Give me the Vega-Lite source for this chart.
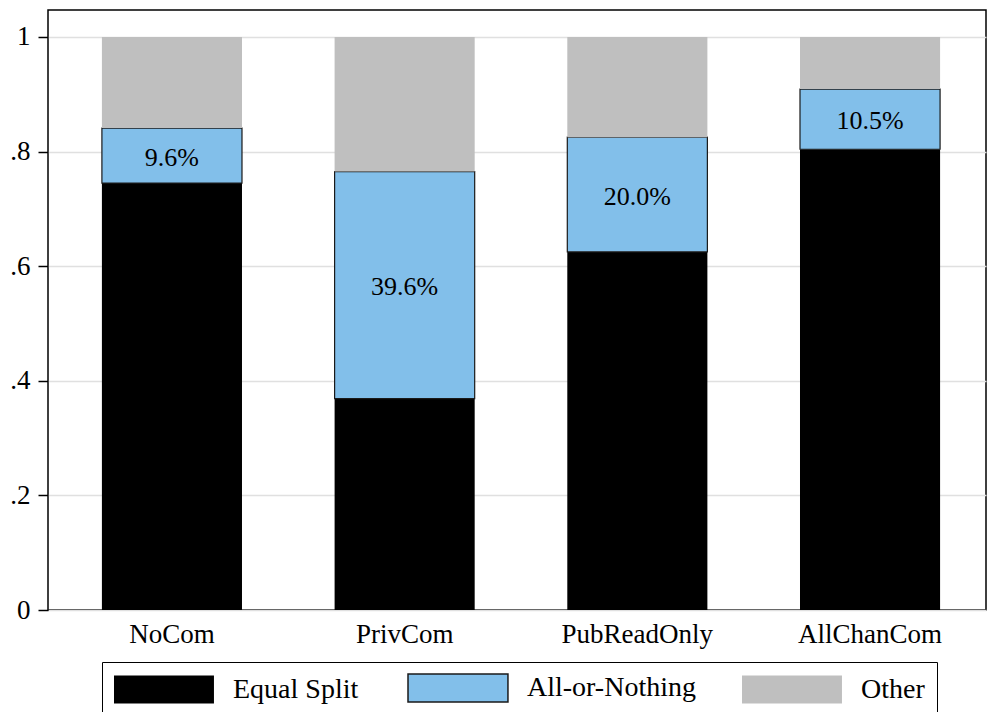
{
  "$schema": "https://vega.github.io/schema/vega-lite/v6.json",
  "width": 938,
  "height": 600,
  "autosize": {"type": "none"},
  "padding": {"left": 48, "top": 10, "right": 1, "bottom": 102},
  "background": "white",
  "config": {
    "font": "Liberation Serif",
    "view": {"stroke": "black", "strokeWidth": 1.5}
  },
  "data": {
    "values": [
      {"cond": "NoCom", "type": "Equal Split", "ord": 1, "value": 0.745},
      {"cond": "NoCom", "type": "All-or-Nothing", "ord": 2, "value": 0.096},
      {"cond": "NoCom", "type": "Other", "ord": 3, "value": 0.159},
      {"cond": "PrivCom", "type": "Equal Split", "ord": 1, "value": 0.369},
      {"cond": "PrivCom", "type": "All-or-Nothing", "ord": 2, "value": 0.396},
      {"cond": "PrivCom", "type": "Other", "ord": 3, "value": 0.235},
      {"cond": "PubReadOnly", "type": "Equal Split", "ord": 1, "value": 0.625},
      {"cond": "PubReadOnly", "type": "All-or-Nothing", "ord": 2, "value": 0.2},
      {"cond": "PubReadOnly", "type": "Other", "ord": 3, "value": 0.175},
      {"cond": "AllChanCom", "type": "Equal Split", "ord": 1, "value": 0.804},
      {"cond": "AllChanCom", "type": "All-or-Nothing", "ord": 2, "value": 0.105},
      {"cond": "AllChanCom", "type": "Other", "ord": 3, "value": 0.091}
    ]
  },
  "transform": [
    {"stack": "value", "groupby": ["cond"], "sort": [{"field": "ord", "order": "ascending"}], "as": ["y0", "y1"]},
    {"calculate": "(datum.y0 + datum.y1) / 2", "as": "ymid"}
  ],
  "layer": [
    {
      "mark": {"type": "bar", "stroke": "#1a1a1a"},
      "encoding": {
        "x": {
          "field": "cond", "type": "nominal",
          "sort": ["NoCom", "PrivCom", "PubReadOnly", "AllChanCom"],
          "scale": {"paddingInner": 0.398, "paddingOuter": 0.2145, "align": 0.54},
          "axis": {"title": null, "labelAngle": 0, "labelFontSize": 27, "labelPadding": 11, "ticks": false, "domain": false, "labelColor": "black"}
        },
        "y": {
          "field": "y0", "type": "quantitative",
          "scale": {"domain": [0, 1.047], "nice": false, "zero": true},
          "axis": {
            "title": null, "values": [0, 0.2, 0.4, 0.6, 0.8, 1],
            "labelExpr": "replace(format(datum.value, '.1~f'), '0.', '.')",
            "labelFontSize": 27, "labelPadding": 8, "labelColor": "black",
            "tickSize": 10, "tickColor": "black", "tickWidth": 1.5,
            "domain": false, "grid": true, "gridColor": "#e0e0e0", "gridWidth": 1.5
          }
        },
        "y2": {"field": "y1"},
        "color": {
          "field": "type", "type": "nominal",
          "scale": {"domain": ["Equal Split", "All-or-Nothing", "Other"], "range": ["#000000", "#82BFEA", "#BFBFBF"]},
          "legend": {
            "title": null, "orient": "none", "legendX": 54, "legendY": 652,
            "direction": "horizontal", "strokeColor": "black", "fillColor": "white",
            "padding": 12, "symbolType": "M-1,-1L6.14,-1L6.14,1L-1,1Z",
            "symbolSize": 784, "symbolStrokeColor": "#1a1a1a", "symbolOpacity": 1,
            "labelFontSize": 28, "labelOffset": 91, "columnPadding": 46, "labelColor": "black", "labelLimit": 400,
            "encode": {"symbols": {"update": {"strokeWidth": {"signal": "datum.label === 'All-or-Nothing' ? 1.5 : 0"}}}}
          }
        },
        "strokeWidth": {"condition": {"test": "datum.type === 'All-or-Nothing'", "value": 1.2}, "value": 0},
        "order": {"field": "ord"}
      }
    },
    {
      "transform": [{"filter": "datum.type === 'All-or-Nothing'"}],
      "mark": {"type": "text", "fontSize": 26, "color": "black", "baseline": "middle", "dy": 2},
      "encoding": {
        "x": {"field": "cond", "type": "nominal", "sort": ["NoCom", "PrivCom", "PubReadOnly", "AllChanCom"]},
        "y": {"field": "ymid", "type": "quantitative"},
        "text": {"field": "value", "type": "quantitative", "format": ".1%"}
      }
    }
  ]
}
